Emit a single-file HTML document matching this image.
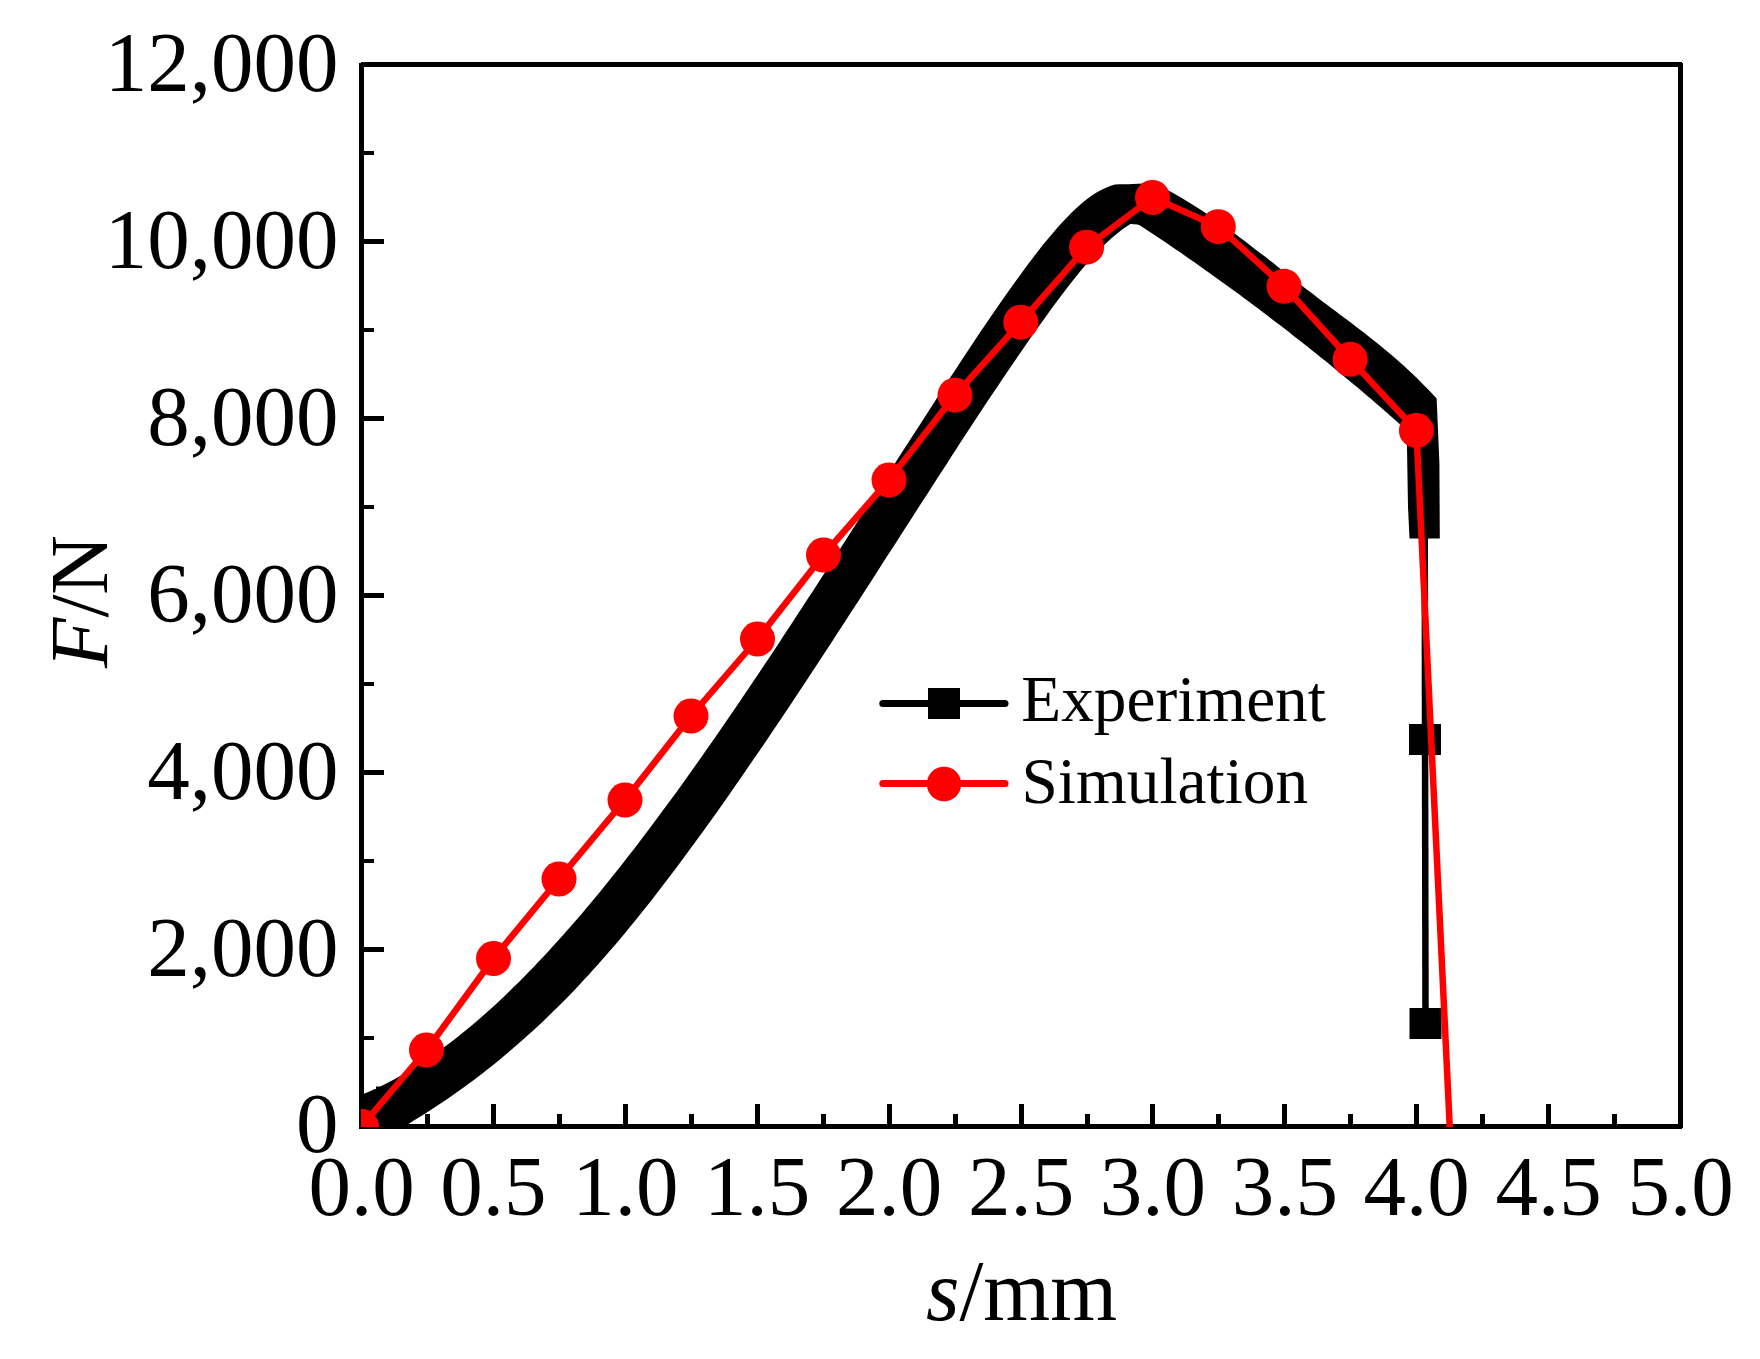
<!DOCTYPE html>
<html lang="en"><head><meta charset="utf-8"><title>F-s curve: Experiment vs Simulation</title>
<style>html,body{margin:0;padding:0;background:#fff}body{width:1760px;height:1359px;overflow:hidden}svg{display:block}text{font-family:"Liberation Serif",serif;fill:#000}</style></head><body>
<svg width="1760" height="1359" viewBox="0 0 1760 1359">
<rect width="1760" height="1359" fill="#fff"/>
<defs><clipPath id="plot"><rect x="361" y="62" width="1322" height="1065"/></clipPath></defs>
<g fill="#000" shape-rendering="crispEdges">
<rect x="359" y="63" width="5" height="1066"/>
<rect x="1678" y="64" width="5" height="1064"/>
<rect x="361" y="62" width="1320" height="5"/>
<path d="M1681 62 L1683 64 H1678 V62Z"/>
<rect x="359" y="1124" width="1323" height="5"/>
<rect x="364" y="1036.0" width="10" height="4"/>
<rect x="364" y="947.0" width="20" height="5"/>
<rect x="364" y="859.0" width="10" height="4"/>
<rect x="364" y="770.0" width="20" height="5"/>
<rect x="364" y="682.0" width="10" height="4"/>
<rect x="364" y="593.0" width="20" height="5"/>
<rect x="364" y="505.0" width="10" height="4"/>
<rect x="364" y="416.0" width="20" height="5"/>
<rect x="364" y="328.0" width="10" height="4"/>
<rect x="364" y="239.0" width="20" height="5"/>
<rect x="364" y="151.0" width="10" height="4"/>
<rect x="424.9" y="1114" width="5" height="10"/>
<rect x="490.9" y="1104" width="5" height="20"/>
<rect x="556.9" y="1114" width="5" height="10"/>
<rect x="622.8" y="1104" width="5" height="20"/>
<rect x="688.8" y="1114" width="5" height="10"/>
<rect x="754.7" y="1104" width="5" height="20"/>
<rect x="820.6" y="1114" width="5" height="10"/>
<rect x="886.6" y="1104" width="5" height="20"/>
<rect x="952.5" y="1114" width="5" height="10"/>
<rect x="1018.5" y="1104" width="5" height="20"/>
<rect x="1084.5" y="1114" width="5" height="10"/>
<rect x="1150.4" y="1104" width="5" height="20"/>
<rect x="1216.3" y="1114" width="5" height="10"/>
<rect x="1282.3" y="1104" width="5" height="20"/>
<rect x="1348.2" y="1114" width="5" height="10"/>
<rect x="1414.2" y="1104" width="5" height="20"/>
<rect x="1480.2" y="1114" width="5" height="10"/>
<rect x="1546.1" y="1104" width="5" height="20"/>
<rect x="1612.0" y="1114" width="5" height="10"/>
</g>
<g font-size="85" text-anchor="end">
<text x="338.5" y="1151.8">0</text>
<text x="338.5" y="976.2">2,000</text>
<text x="338.5" y="799.2">4,000</text>
<text x="338.5" y="622.2">6,000</text>
<text x="338.5" y="445.2">8,000</text>
<text x="338.5" y="268.2">10,000</text>
<text x="338.5" y="91.2">12,000</text>
</g>
<g font-size="85" text-anchor="middle">
<text x="361.5" y="1215.2">0.0</text>
<text x="493.4" y="1215.2">0.5</text>
<text x="625.3" y="1215.2">1.0</text>
<text x="757.2" y="1215.2">1.5</text>
<text x="889.1" y="1215.2">2.0</text>
<text x="1021.0" y="1215.2">2.5</text>
<text x="1152.9" y="1215.2">3.0</text>
<text x="1284.8" y="1215.2">3.5</text>
<text x="1416.7" y="1215.2">4.0</text>
<text x="1548.6" y="1215.2">4.5</text>
<text x="1680.5" y="1215.2">5.0</text>
</g>
<text x="1021.5" y="1320.4" font-size="86" text-anchor="middle"><tspan font-style="italic">s</tspan>/mm</text>
<text transform="translate(107.2 601.5) rotate(-90)" font-size="82.5" text-anchor="middle"><tspan font-style="italic">F</tspan>/N</text>
<g clip-path="url(#plot)">
<path d="M355.0 1097.2 L359.8 1095.4 L364.6 1093.5 L369.4 1091.4 L374.2 1089.3 L379.1 1087.0 L383.9 1084.7 L388.7 1082.2 L393.5 1079.7 L398.3 1077.0 L403.1 1074.3 L407.9 1071.5 L412.7 1068.6 L417.5 1065.5 L422.3 1062.4 L427.2 1059.2 L432.0 1055.9 L436.8 1052.6 L441.6 1049.1 L446.4 1045.5 L451.2 1041.9 L456.0 1038.2 L460.8 1034.3 L465.6 1030.4 L470.4 1026.5 L475.3 1022.4 L480.1 1018.3 L484.9 1014.1 L489.7 1009.8 L494.5 1005.4 L499.3 1000.9 L504.1 996.4 L508.9 991.8 L513.7 987.1 L518.5 982.4 L523.4 977.5 L528.2 972.6 L533.0 967.7 L537.8 962.6 L542.6 957.5 L547.4 952.4 L552.2 947.1 L557.0 941.8 L561.8 936.5 L566.6 931.0 L571.5 925.6 L576.3 920.0 L581.1 914.4 L585.9 908.7 L590.7 903.0 L595.5 897.2 L600.3 891.4 L605.1 885.5 L609.9 879.5 L614.7 873.5 L619.6 867.4 L624.4 861.3 L629.2 855.1 L634.0 848.9 L638.8 842.7 L643.6 836.3 L648.4 830.0 L653.2 823.6 L658.0 817.1 L662.8 810.6 L667.7 804.1 L672.5 797.5 L677.3 790.9 L682.1 784.2 L686.9 777.5 L691.7 770.8 L696.5 764.0 L701.3 757.2 L706.1 750.3 L710.9 743.4 L715.8 736.5 L720.6 729.6 L725.4 722.6 L730.2 715.6 L735.0 708.5 L739.8 701.4 L744.6 694.3 L749.4 687.2 L754.2 680.0 L759.0 672.9 L763.9 665.6 L768.7 658.4 L773.5 651.2 L778.3 643.9 L783.1 636.6 L787.9 629.3 L792.7 621.9 L797.5 614.6 L802.3 607.2 L807.1 599.8 L812.0 592.4 L816.8 585.0 L821.6 577.6 L826.4 570.2 L831.2 562.7 L836.0 555.3 L840.8 547.8 L845.6 540.3 L850.4 532.8 L855.2 525.3 L860.1 517.8 L864.9 510.3 L869.7 502.8 L874.5 495.3 L879.3 487.8 L884.1 480.3 L888.9 472.8 L893.7 465.3 L898.5 457.8 L903.3 450.3 L908.2 442.8 L913.0 435.3 L917.8 427.9 L922.6 420.4 L927.4 412.9 L932.2 405.5 L937.0 398.0 L941.8 390.6 L946.6 383.2 L951.4 375.8 L956.3 368.4 L961.1 361.0 L965.9 353.7 L970.7 346.5 L975.5 339.3 L980.3 332.1 L985.1 325.0 L989.9 317.9 L994.7 310.9 L999.5 303.9 L1004.4 297.1 L1009.2 290.2 L1014.0 283.5 L1018.8 276.9 L1023.6 270.3 L1028.4 263.8 L1033.2 257.5 L1038.0 251.2 L1042.8 245.1 L1047.6 239.2 L1052.5 233.4 L1057.3 227.8 L1062.1 222.5 L1066.9 217.4 L1071.7 212.5 L1076.5 208.0 L1081.3 203.8 L1086.1 199.8 L1090.9 196.3 L1095.7 193.1 L1100.6 190.3 L1105.4 188.0 L1110.2 186.1 L1115.0 184.6 L1119.8 184.3 L1128.0 184.3 L1153.0 182.9 L1157.8 185.2 L1162.6 187.6 L1167.4 190.1 L1172.2 192.6 L1177.0 195.3 L1181.8 198.1 L1186.6 201.0 L1191.5 203.9 L1196.3 206.9 L1201.1 210.1 L1205.9 213.2 L1210.7 216.5 L1215.5 219.8 L1220.3 223.2 L1225.1 226.6 L1229.9 230.1 L1234.7 233.6 L1239.5 237.2 L1244.3 240.8 L1249.1 244.5 L1253.9 248.2 L1258.7 251.9 L1263.6 255.6 L1268.4 259.3 L1273.2 263.1 L1278.0 266.9 L1282.8 270.6 L1287.6 274.4 L1292.4 278.2 L1297.2 281.9 L1302.0 285.7 L1306.8 289.4 L1311.6 293.1 L1316.4 296.8 L1321.2 300.5 L1326.0 304.1 L1330.9 307.7 L1335.7 311.3 L1340.5 314.9 L1345.3 318.5 L1350.1 322.1 L1354.9 325.7 L1359.7 329.4 L1364.5 333.1 L1369.3 336.9 L1374.1 340.7 L1378.9 344.5 L1383.7 348.5 L1388.5 352.5 L1393.3 356.6 L1398.1 360.7 L1403.0 365.0 L1407.8 369.4 L1412.6 373.9 L1417.4 378.6 L1422.2 383.4 L1427.0 388.3 L1431.8 393.3 L1436.6 398.6 L1437.1 408.6 L1439.4 463.0 L1439.8 538.5 L1409.5 538.5 L1408.0 507.0 L1407.0 448.0 L1407.0 430.4 L1402.5 426.4 L1397.9 422.4 L1393.4 418.4 L1388.9 414.4 L1384.3 410.5 L1379.8 406.6 L1375.3 402.7 L1370.8 398.8 L1366.2 394.9 L1361.7 391.1 L1357.2 387.3 L1352.6 383.5 L1348.1 379.7 L1343.6 375.9 L1339.0 372.2 L1334.5 368.5 L1330.0 364.8 L1325.5 361.1 L1320.9 357.4 L1316.4 353.8 L1311.9 350.2 L1307.3 346.6 L1302.8 343.0 L1298.3 339.4 L1293.7 335.9 L1289.2 332.3 L1284.7 328.8 L1280.1 325.3 L1275.6 321.9 L1271.1 318.4 L1266.6 314.9 L1262.0 311.5 L1257.5 308.1 L1253.0 304.7 L1248.4 301.3 L1243.9 298.0 L1239.4 294.6 L1234.8 291.3 L1230.3 288.0 L1225.8 284.7 L1221.2 281.4 L1216.7 278.2 L1212.2 274.9 L1207.7 271.7 L1203.1 268.5 L1198.6 265.3 L1194.1 262.1 L1189.5 258.9 L1185.0 255.8 L1180.5 252.6 L1175.9 249.5 L1171.4 246.4 L1166.9 243.3 L1162.4 240.3 L1157.8 237.2 L1153.3 234.2 L1148.8 231.2 L1144.2 228.2 L1139.7 225.2 L1137.5 224.6 L1130.4 224.0 L1125.8 227.0 L1121.2 230.3 L1116.6 233.9 L1112.0 237.8 L1107.4 242.0 L1102.8 246.4 L1098.2 251.1 L1093.7 256.0 L1089.1 261.1 L1084.5 266.3 L1079.9 271.8 L1075.3 277.5 L1070.7 283.3 L1066.1 289.2 L1061.5 295.2 L1056.9 301.4 L1052.3 307.6 L1047.7 314.0 L1043.1 320.4 L1038.5 326.8 L1033.9 333.3 L1029.3 339.8 L1024.7 346.4 L1020.2 353.0 L1015.6 359.7 L1011.0 366.4 L1006.4 373.2 L1001.8 380.0 L997.2 386.9 L992.6 393.7 L988.0 400.6 L983.4 407.6 L978.8 414.5 L974.2 421.5 L969.6 428.6 L965.0 435.6 L960.4 442.6 L955.8 449.7 L951.2 456.8 L946.7 463.9 L942.1 471.0 L937.5 478.1 L932.9 485.2 L928.3 492.4 L923.7 499.5 L919.1 506.6 L914.5 513.8 L909.9 520.9 L905.3 528.1 L900.7 535.2 L896.1 542.4 L891.5 549.5 L886.9 556.6 L882.3 563.8 L877.7 570.9 L873.2 578.0 L868.6 585.2 L864.0 592.3 L859.4 599.4 L854.8 606.5 L850.2 613.6 L845.6 620.7 L841.0 627.7 L836.4 634.8 L831.8 641.9 L827.2 648.9 L822.6 655.9 L818.0 662.9 L813.4 669.9 L808.8 676.9 L804.2 683.9 L799.7 690.8 L795.1 697.8 L790.5 704.7 L785.9 711.6 L781.3 718.4 L776.7 725.3 L772.1 732.1 L767.5 738.9 L762.9 745.7 L758.3 752.4 L753.7 759.1 L749.1 765.8 L744.5 772.5 L739.9 779.2 L735.3 785.8 L730.7 792.4 L726.2 798.9 L721.6 805.4 L717.0 811.9 L712.4 818.4 L707.8 824.8 L703.2 831.2 L698.6 837.5 L694.0 843.8 L689.4 850.1 L684.8 856.3 L680.2 862.5 L675.6 868.7 L671.0 874.8 L666.4 880.8 L661.8 886.8 L657.2 892.8 L652.7 898.7 L648.1 904.5 L643.5 910.3 L638.9 916.0 L634.3 921.7 L629.7 927.3 L625.1 932.9 L620.5 938.4 L615.9 943.9 L611.3 949.2 L606.7 954.6 L602.1 959.8 L597.5 965.0 L592.9 970.1 L588.3 975.2 L583.7 980.1 L579.2 985.1 L574.6 989.9 L570.0 994.7 L565.4 999.4 L560.8 1004.0 L556.2 1008.6 L551.6 1013.1 L547.0 1017.5 L542.4 1021.9 L537.8 1026.2 L533.2 1030.5 L528.6 1034.6 L524.0 1038.8 L519.4 1042.8 L514.8 1046.8 L510.2 1050.8 L505.7 1054.6 L501.1 1058.5 L496.5 1062.2 L491.9 1065.9 L487.3 1069.6 L482.7 1073.2 L478.1 1076.7 L473.5 1080.2 L468.9 1083.6 L464.3 1087.0 L459.7 1090.3 L455.1 1093.5 L450.5 1096.8 L445.9 1099.9 L441.3 1103.0 L436.7 1106.1 L432.2 1109.1 L427.6 1112.0 L423.0 1114.9 L418.4 1117.8 L413.8 1120.6 L409.2 1123.4 L404.6 1126.1 L400.0 1128.8 L355.0 1130.0ZM376 1102 V1086.5 H392 V1096Z" fill="#000"/>
<path d="M1424.7 520 L1425.5 1023" stroke="#000" stroke-width="6.5" fill="none"/>
<rect x="1409" y="724" width="32" height="31" fill="#000"/>
<rect x="1409.5" y="1008" width="32" height="31" fill="#000"/>
<path d="M361.5 1126.5 L426.5 1050.0 L493.5 958.5 L559.0 879.0 L625.0 800.0 L691.0 716.0 L757.5 639.0 L823.5 555.0 L889.0 480.0 L955.0 395.2 L1020.8 322.2 L1086.6 247.2 L1152.5 197.5 L1218.3 226.7 L1284.1 286.3 L1350.2 359.3 L1416.4 430.5 L1449.8 1128.0" stroke="#f00" stroke-width="6.5" fill="none" stroke-linejoin="round"/>
<g fill="#f00">
<circle cx="361.5" cy="1126.5" r="17.5"/>
<circle cx="426.5" cy="1050" r="17.5"/>
<circle cx="493.5" cy="958.5" r="17.5"/>
<circle cx="559" cy="879" r="17.5"/>
<circle cx="625" cy="800" r="17.5"/>
<circle cx="691" cy="716" r="17.5"/>
<circle cx="757.5" cy="639" r="17.5"/>
<circle cx="823.5" cy="555" r="17.5"/>
<circle cx="889" cy="480" r="17.5"/>
<circle cx="955" cy="395.2" r="17.5"/>
<circle cx="1020.8" cy="322.2" r="17.5"/>
<circle cx="1086.6" cy="247.2" r="17.5"/>
<circle cx="1152.5" cy="197.5" r="17.5"/>
<circle cx="1218.3" cy="226.7" r="17.5"/>
<circle cx="1284.1" cy="286.3" r="17.5"/>
<circle cx="1350.2" cy="359.3" r="17.5"/>
<circle cx="1416.4" cy="430.5" r="17.5"/>
</g></g>
<path d="M882.8 703.5 H1005" stroke="#000" stroke-width="7" stroke-linecap="round" fill="none"/>
<rect x="928" y="688" width="32" height="31" fill="#000"/>
<path d="M882.8 783.5 H1005" stroke="#f00" stroke-width="7" stroke-linecap="round" fill="none"/>
<circle cx="944" cy="784" r="17.3" fill="#f00"/>
<text x="1021.3" y="721" font-size="65.3">Experiment</text>
<text x="1021.5" y="802.6" font-size="65.3">Simulation</text>
</svg></body></html>
